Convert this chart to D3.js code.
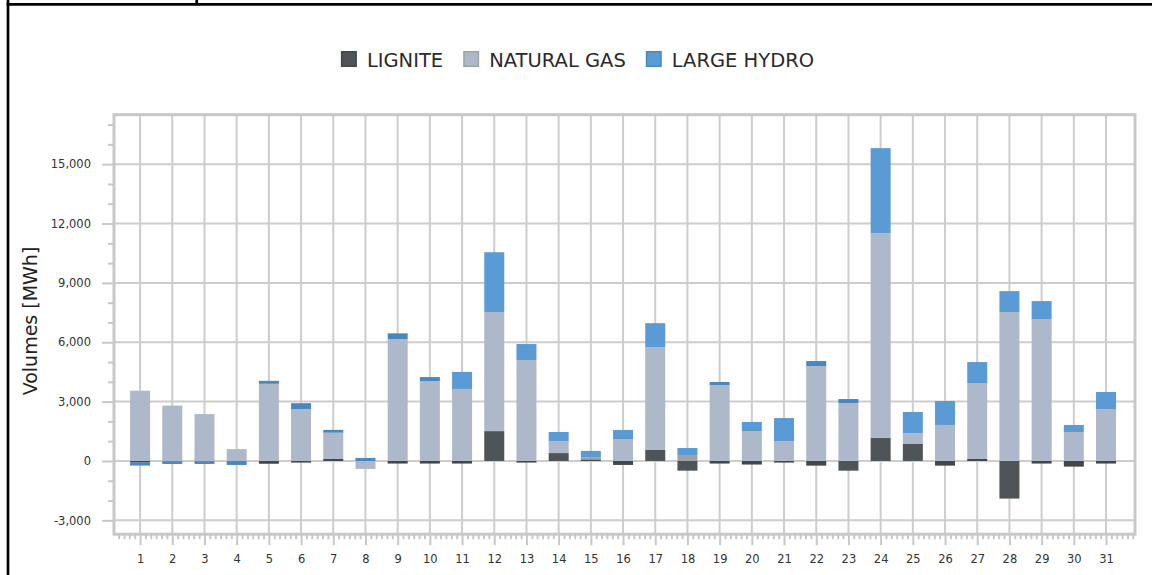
<!DOCTYPE html>
<html>
<head>
<meta charset="utf-8">
<script src="https://cdn.jsdelivr.net/npm/d3@7"></script>
<style>
  html, body { margin: 0; padding: 0; background: #fff; }
  svg { display: block; font-family: "DejaVu Sans", Verdana, sans-serif; }
</style>
</head>
<body>
<svg id="chart" width="1152" height="575"></svg>
<script>
// ---- data ----
const days = d3.range(1, 32);
const seriesNames = ["LIGNITE", "NATURAL GAS", "LARGE HYDRO"];
const lignite = [-80, -10, -10, 0, -140, -80, 100, 0, -130, -130, -130, 1510, -80, 400, 80, -200, 555, -490, -130, -180, -80, -235, -490, 1160, 860, -235, 100, -1900, -130, -285, -130];
const naturalGas = [3550, 2800, 2370, 600, 3900, 2620, 1330, -400, 6160, 4040, 3640, 6010, 5100, 610, 90, 1110, 5200, 300, 3840, 1515, 1010, 4800, 2930, 10355, 555, 1820, 3840, 7525, 7170, 1465, 2625];
const largeHydro = [-150, -140, -140, -200, 150, 300, 140, 150, 290, 200, 860, 3030, 810, 455, 340, 455, 1210, 355, 150, 455, 1160, 250, 200, 4295, 1060, 1210, 1060, 1060, 910, 355, 860];
const yMajorTicks = [-3000, 0, 3000, 6000, 9000, 12000, 15000];
const yLabel = "Volumes [MWh]";

// ---- styles ----
const fills = ["#4f5457", "#adb8ca", "#5b9bd5"];
const darkFills = ["#43474a", "#9ca2aa", "#4a87bd"];
const gridColor = "#cdcdcd";
const frameColor = "#c8c8c8";
const textColor = "#333";

const rows = days.map((d, i) => ({ day: d, LIGNITE: lignite[i], "NATURAL GAS": naturalGas[i], "LARGE HYDRO": largeHydro[i] }));

const svg = d3.select("#chart");
svg.append("rect").attr("width", 1152).attr("height", 575).attr("fill", "#fff");

// outer page border fragments
svg.append("line").attr("x1", 8).attr("x2", 8).attr("y1", 0).attr("y2", 575).attr("stroke", "#000").attr("stroke-width", 2.7);
svg.append("line").attr("x1", 6.7).attr("x2", 1152).attr("y1", 4.3).attr("y2", 4.3).attr("stroke", "#000").attr("stroke-width", 2.7);
svg.append("line").attr("x1", 196.7).attr("x2", 196.7).attr("y1", 0).attr("y2", 4).attr("stroke", "#000").attr("stroke-width", 2.7);

const plot = { left: 114, right: 1135, top: 114.7, bottom: 534.2 };
const x = d3.scaleLinear().domain([0.19, 31.9]).range([plot.left, plot.right]);
const y = d3.scaleLinear().domain([-3700, 17500]).range([plot.bottom, plot.top]);

// gridlines
const grid = svg.append("g");
grid.selectAll("line.h").data(yMajorTicks).join("line")
  .attr("x1", plot.left).attr("x2", plot.right)
  .attr("y1", d => y(d)).attr("y2", d => y(d))
  .attr("stroke", gridColor).attr("stroke-width", 2);
grid.selectAll("line.v").data(days).join("line")
  .attr("x1", d => x(d)).attr("x2", d => x(d))
  .attr("y1", plot.top).attr("y2", plot.bottom)
  .attr("stroke", gridColor).attr("stroke-width", 2);

// stacked bars
const stack = d3.stack().keys(seriesNames).offset(d3.stackOffsetDiverging);
const stacked = stack(rows);
const barW = 20;
stacked.forEach((s, si) => {
  svg.append("g").selectAll("rect").data(s).join("rect")
    .attr("x", d => x(d.data.day) - barW / 2)
    .attr("width", barW)
    .attr("y", d => y(Math.max(d[0], d[1])))
    .attr("height", d => Math.abs(y(d[0]) - y(d[1])))
    .attr("fill", d => Math.abs(y(d[0]) - y(d[1])) < 6.6 ? darkFills[si] : fills[si]);
});

// frame
svg.append("rect")
  .attr("x", plot.left).attr("y", plot.top)
  .attr("width", plot.right - plot.left).attr("height", plot.bottom - plot.top)
  .attr("fill", "none").attr("stroke", frameColor).attr("stroke-width", 3);

// y axis
const fmt = d3.format(",");
const yMinor = d3.range(-3000, 17001, 1000).filter(v => v % 3000 !== 0);
const yAxis = svg.append("g").attr("transform", `translate(${plot.left},0)`)
  .call(d3.axisLeft(y).tickValues(yMajorTicks).tickFormat(d => fmt(d).replace("\u2212", "-")).tickSize(12).tickPadding(11));
const yAxisMinor = svg.append("g").attr("transform", `translate(${plot.left},0)`)
  .call(d3.axisLeft(y).tickValues(yMinor).tickFormat("").tickSize(6));

// x axis
const xMinor = d3.range(1, 6 * 32).map(k => k / 6).filter(v => Math.abs(v - Math.round(v)) > 1e-6 && v > 0.2 && v < 31.9);
const xAxis = svg.append("g").attr("transform", `translate(0,${plot.bottom})`)
  .call(d3.axisBottom(x).tickValues(days).tickFormat(d3.format("d")).tickSize(11).tickPadding(10));
const xAxisMinor = svg.append("g").attr("transform", `translate(0,${plot.bottom})`)
  .call(d3.axisBottom(x).tickValues(xMinor).tickFormat("").tickSize(5));

[yAxis, yAxisMinor, xAxis, xAxisMinor].forEach(g => {
  g.select(".domain").remove();
  g.selectAll(".tick line").attr("stroke", frameColor).attr("stroke-width", 2);
  g.selectAll(".tick text").attr("fill", textColor).style("font-family", '"DejaVu Sans", Verdana, sans-serif');
});
yAxis.selectAll(".tick text").style("font-size", "11.5px");
xAxis.selectAll(".tick text").style("font-size", "11.5px");

// y label
svg.append("text")
  .attr("transform", "translate(37,321) rotate(-90)")
  .attr("text-anchor", "middle")
  .attr("fill", "#222")
  .style("font-size", "19px")
  .text(yLabel);

// legend
const legend = svg.append("g");
let cx = 0;
seriesNames.forEach((name, i) => {
  const g = legend.append("g");
  g.append("rect").attr("x", 0.75).attr("y", 51.75).attr("width", 14.5).attr("height", 14.5)
    .attr("fill", fills[i]).attr("stroke", darkFills[i]).attr("stroke-width", 1.5);
  const t = g.append("text").attr("x", 26).attr("y", 67).attr("fill", "#2a2a2a")
    .style("font-size", "19.5px").text(name);
  const w = 26 + t.node().getComputedTextLength();
  g.attr("transform", `translate(${cx},0)`);
  cx += w + 20;
});
const totalW = cx - 20;
legend.attr("transform", `translate(${577.5 - totalW / 2},0)`);
</script>
</body>
</html>
